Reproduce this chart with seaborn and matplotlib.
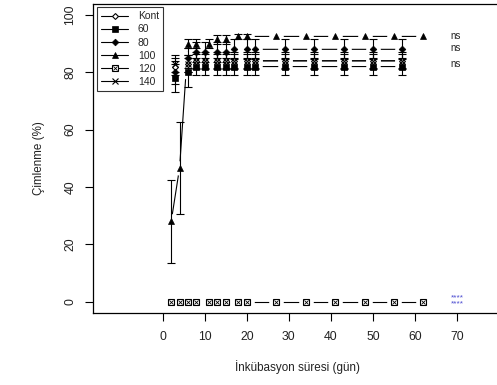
import matplotlib
matplotlib.use("Agg")
import matplotlib.pyplot as plt
import seaborn as sns
import numpy as np
import pandas as pd
from matplotlib.lines import Line2D
from matplotlib.legend_handler import HandlerTuple

# ---- data ----
t_a = [2, 4, 6, 8, 11, 13, 15, 18, 20, 27, 34, 41, 48, 55, 62]      # 100, 120
t_b = [3, 6, 8, 10, 13, 15, 17, 20, 22, 29, 36, 43, 50, 57]          # Kont, 60, 80, 140

kont = [82, 83, 84, 84, 84, 84, 84, 84, 84, 84, 84, 84, 84, 84]
kont_err = [3, 3, 2.5, 2.5, 2.5, 2.5, 2.5, 2.5, 2.5, 2.5, 2.5, 2.5, 2.5, 2.5]
s60 = [78, 80, 82, 82, 82, 82, 82, 82, 82, 82, 82, 82, 82, 82]
s60_err = [5, 5, 3, 3, 3, 3, 3, 3, 3, 3, 3, 3, 3, 3]
s80 = [80, 85, 87, 87, 87, 87, 88, 88, 88, 88, 88, 88, 88, 88]
s80_err = [4, 3.5, 3.5, 3.5, 3.5, 3.5, 3.5, 3.5, 3.5, 3.5, 3.5, 3.5, 3.5, 3.5]
s100 = [28, 46.7, 90, 90, 90, 91.5, 91.5, 92.5, 92.5, 92.5, 92.5, 92.5, 92.5, 92.5, 92.5]
s100_err = [14.5, 16, 1.5, 1.5, 1.5, 1.5, 1.5, 1, 1, 0, 0, 0, 0, 0, 0]
s120 = [0] * 15
s120_err = [0] * 15
s140 = [83, 83, 84, 84, 84, 84, 84, 84, 84, 84, 84, 84, 84, 84]
s140_err = [3, 3, 3, 3, 3, 3, 3, 3, 3, 3, 3, 3, 3, 3]

labels = ["Kont", "60", "80", "100", "120", "140"]
x_ticks = [0, 10, 20, 30, 40, 50, 60, 70]
y_ticks = [0, 20, 40, 60, 80, 100]
ns_y = [92.7, 88.4, 82.8]
star_text = "****\n****"
star_y = 0.4

series = [
    ("Kont", t_b, kont, kont_err, dict(marker="D", ms=3.0, mfc="white", mec="black", mew=0.8)),
    ("60", t_b, s60, s60_err, dict(marker="s", ms=4.0, mfc="black", mec="black", mew=0.5)),
    ("80", t_b, s80, s80_err, dict(marker="D", ms=3.4, mfc="black", mec="black", mew=0.5)),
    ("100", t_a, s100, s100_err, dict(marker="^", ms=4.6, mfc="black", mec="black", mew=0.5)),
    ("120", t_a, s120, s120_err, dict(marker="s", ms=5.0, mfc="white", mec="black", mew=0.8)),
    ("140", t_b, s140, s140_err, dict(marker="x", ms=4.0, mfc="black", mec="black", mew=0.8)),
]

sns.set_style("white")
plt.rcParams["font.family"] = ["Liberation Sans", "DejaVu Sans"]

W, H = 497, 385
fig = plt.figure(figsize=(W / 100, H / 100), dpi=100)
ax = fig.add_axes([93 / W, 1 - 313 / H, (W - 93) / W + 0.01, 309 / H])

# lines
for name, t, v, e, st in series:
    df = pd.DataFrame({"t": t, "v": v})
    sns.lineplot(data=df, x="t", y="v", ax=ax, color="black", lw=0.8,
                 estimator=None, sort=False, zorder=1, legend=False)
# white halos to make gaps around points (R type="b")
for name, t, v, e, st in series:
    ax.plot(t, v, ls="none", marker="o", ms=9.5, mfc="white", mec="white", zorder=2)
# error bars
for name, t, v, e, st in series:
    ee = np.array(e, dtype=float)
    mask = ee > 0
    ax.errorbar(np.array(t)[mask], np.array(v)[mask], yerr=ee[mask], fmt="none",
                ecolor="black", elinewidth=0.8, capsize=2.8, capthick=0.8, zorder=3)
# markers
for name, t, v, e, st in series:
    ax.plot(t, v, ls="none", color="black", zorder=4, **st)
    if name == "120":
        ax.plot(t, v, ls="none", marker="x", ms=3.2, mec="black", mew=0.6, zorder=5)

ax.set_xlim(-16.6, 80.7)
ax.set_ylim(-3.9, 103.8)
ax.set_xticks(x_ticks)
ax.set_yticks(y_ticks)
ax.tick_params(axis="both", direction="out", length=6, width=0.8, color="black",
               labelsize=8.8, labelcolor="#222222", left=True, bottom=True)
ax.tick_params(axis="x", pad=7)
ax.tick_params(axis="y", pad=6)
for lab in ax.get_yticklabels():
    lab.set_rotation(90)
    lab.set_va("center")
for s in ["left", "top", "bottom"]:
    ax.spines[s].set_visible(True)
    ax.spines[s].set_color("black")
    ax.spines[s].set_linewidth(0.9)
ax.spines["right"].set_visible(False)
ax.grid(False)
ax.set_xlabel("İnkübasyon süresi (gün)", fontsize=8.4, color="#222222", labelpad=12)
ax.set_ylabel("Çimlenme (%)", fontsize=8.4, color="#222222", labelpad=14)

for y in ns_y:
    ax.text(68.4, y, "ns", fontsize=7, color="#222222", va="center", ha="left")
ax.text(70, star_y, star_text, fontsize=6, color="#4a4ad0", va="center", ha="center",
        linespacing=0.75)

# legend
handles = []
for name, t, v, e, st in series:
    h = Line2D([0], [0], color="black", lw=0.8, **st)
    if name == "120":
        hx = Line2D([0], [0], ls="none", marker="x", ms=3.2, mec="black", mew=0.6)
        h = (h, hx)
    handles.append(h)
leg = ax.legend(handles, labels, loc="upper left", bbox_to_anchor=(0.01, 0.99),
                fontsize=7.5, frameon=True, fancybox=False, handlelength=2.6,
                handletextpad=0.9, labelspacing=0.3, borderpad=0.4, borderaxespad=0.0,
                handler_map={tuple: HandlerTuple(ndivide=1, pad=0)})
leg.get_frame().set_edgecolor("black")
leg.get_frame().set_linewidth(0.8)

fig.savefig("out.png", dpi=100)
